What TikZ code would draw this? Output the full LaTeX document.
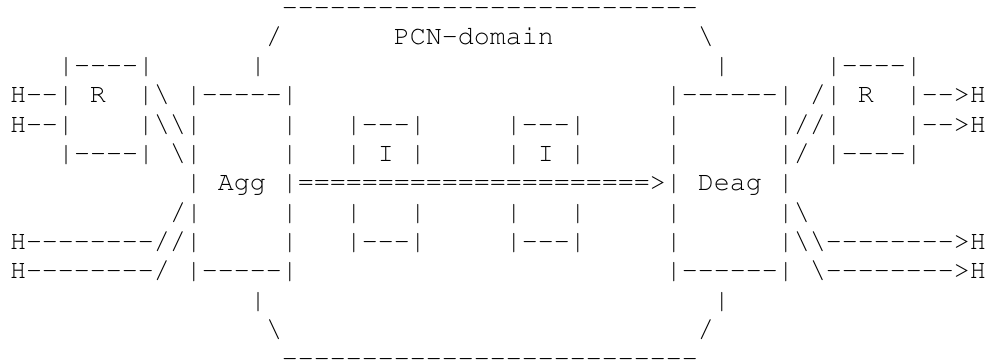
\documentclass[tikz,border=0pt]{standalone}
\usepackage[T1]{fontenc}
\usepackage{courier}
\newlength\cw
\setlength\cw{12pt}
\newcommand\sk[1]{\hspace*{#1\cw}}
\newcommand\bs{\textbackslash}
\newcommand\hy{{-}}
\newcommand\dsh[1]{\foreach\i in {1,...,#1}{-}}
\begin{document}
\begin{tikzpicture}[x=1pt,y=1pt,
  artline/.style={anchor=base west, inner sep=0pt, outer sep=0pt,
    font=\ttfamily\fontsize{20pt}{22pt}\selectfont}]
\useasboundingbox (0,0) rectangle (741.75,-272.25);
\def\lx{7.5}
\def\lb#1{-(77.25+(#1-4)*21.975)}
\node[artline] (l1)  at (\lx,{\lb{1}})  {\sk{17}\dsh{26}};
\node[artline] (l2)  at (\lx,{\lb{2}})  {\sk{16}/\sk{7}PCN\hy domain\sk{9}\bs};
\node[artline] (l3)  at (\lx,{\lb{3}})  {\sk{3}|\dsh{4}|\sk{6}|\sk{28}|\sk{6}|\dsh{4}|};
\node[artline] (l4)  at (\lx,{\lb{4}})  {H\dsh{2}|\sk{1}R\sk{2}|\bs\sk{1}|\dsh{5}|\sk{23}|\dsh{6}|\sk{1}/|\sk{1}R\sk{2}|\dsh{2}>H};
\node[artline] (l5)  at (\lx,{\lb{5}})  {H\dsh{2}|\sk{4}|\bs\bs|\sk{5}|\sk{3}|\dsh{3}|\sk{5}|\dsh{3}|\sk{5}|\sk{6}|//|\sk{4}|\dsh{2}>H};
\node[artline] (l6)  at (\lx,{\lb{6}})  {\sk{3}|\dsh{4}|\sk{1}\bs|\sk{5}|\sk{3}|\sk{1}I\sk{1}|\sk{5}|\sk{1}I\sk{1}|\sk{5}|\sk{6}|/\sk{1}|\dsh{4}|};
\node[artline] (l7)  at (\lx,{\lb{7}})  {\sk{11}|\sk{1}Agg\sk{1}|======================>|\sk{1}Deag\sk{1}|};
\node[artline] (l8)  at (\lx,{\lb{8}})  {\sk{10}/|\sk{5}|\sk{3}|\sk{3}|\sk{5}|\sk{3}|\sk{5}|\sk{6}|\bs};
\node[artline] (l9)  at (\lx,{\lb{9}})  {H\dsh{8}//|\sk{5}|\sk{3}|\dsh{3}|\sk{5}|\dsh{3}|\sk{5}|\sk{6}|\bs\bs\dsh{8}>H};
\node[artline] (l10) at (\lx,{\lb{10}}) {H\dsh{8}/\sk{1}|\dsh{5}|\sk{23}|\dsh{6}|\sk{1}\bs\dsh{8}>H};
\node[artline] (l11) at (\lx,{\lb{11}}) {\sk{15}|\sk{28}|};
\node[artline] (l12) at (\lx,{\lb{12}}) {\sk{16}\bs\sk{26}/};
\node[artline] (l13) at (\lx,{\lb{13}}) {\sk{17}\dsh{26}};
\end{tikzpicture}
\end{document}
